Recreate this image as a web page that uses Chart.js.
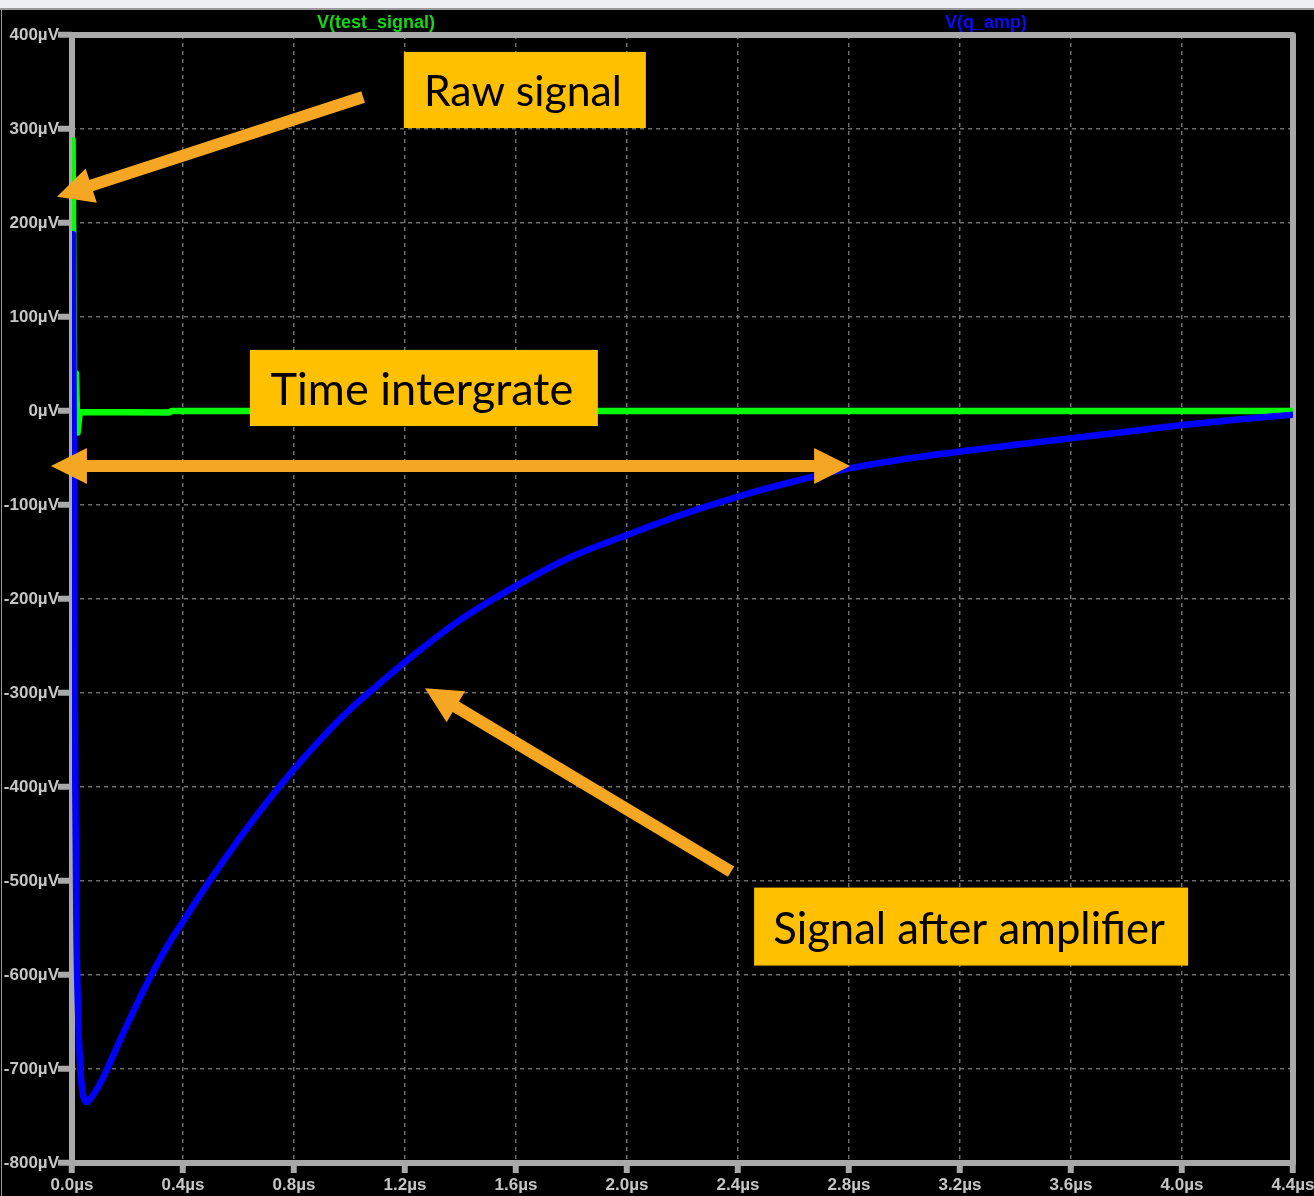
<!DOCTYPE html>
<html>
<head>
<meta charset="utf-8">
<title>V(test_signal) / V(q_amp)</title>
<script src="https://cdn.jsdelivr.net/npm/chart.js@4.4.1/dist/chart.umd.min.js"></script>
<style>
  html, body { margin: 0; padding: 0; background: #000; }
  #wrap { width: 1314px; height: 1196px; position: relative; }
</style>
</head>
<body>
<div id="wrap"><canvas id="scope"></canvas></div>
<script>
// Axis ticks (time in µs, voltage in µV)
const timeTicks = [0.0, 0.4, 0.8, 1.2, 1.6, 2.0, 2.4, 2.8, 3.2, 3.6, 4.0, 4.4];
const voltTicks = [400, 300, 200, 100, 0, -100, -200, -300, -400, -500, -600, -700, -800];

// Trace names
const traceNames = ["V(test_signal)", "V(q_amp)"];

// V(test_signal): short spike at t=0 then flat
const testSignalT = [0, 0.002, 0.008, 0.014, 0.02, 0.028, 0.35, 0.36, 4.4];
const testSignalV = [0, 288, 0, 40, -23, -1, -1.5, 0, 0];

// V(q_amp): amplifier output, fast dip then slow recovery
const qAmpT = [0, 0.003, 0.008, 0.012, 0.016, 0.022, 0.03, 0.04, 0.053, 0.075, 0.1, 0.125,
  0.16, 0.2, 0.25, 0.3, 0.35, 0.4, 0.5, 0.6, 0.7, 0.8, 0.9, 1.0, 1.1, 1.2, 1.4, 1.6,
  1.8, 2.0, 2.2, 2.4, 2.6, 2.8, 3.0, 3.2, 3.4, 3.6, 3.8, 4.0, 4.2, 4.4];
const qAmpV = [0, 188, -200, -400, -550, -640, -700, -728, -735, -728, -716, -701,
  -678, -652, -621, -592, -566, -543, -498, -456, -417, -381, -348, -318, -292, -267, -222, -186,
  -155, -132, -110, -91, -75, -61, -51, -43, -36, -29, -22, -15, -9, -4];

// Callouts, placed in data units (µs, µV)
const callouts = [
  { text: "Raw signal", t0: 1.196, t1: 2.068, v0: 382, v1: 301, textW: 198 },
  { text: "Time intergrate", t0: 0.641, t1: 1.895, v0: 65, v1: -16, textW: 303 },
  { text: "Signal after amplifier", t0: 2.458, t1: 4.022, v0: -507, v1: -590, textW: 392 }
];
const arrows = [
  { t0: 1.049, v0: 334, t1: -0.054, v1: 228, both: false },
  { t0: -0.076, v0: -58.5, t1: 2.804, v1: -58.5, both: true },
  { t0: 2.375, v0: -490, t1: 1.272, v1: -295, both: false }
];

const traceColors = ["#00ff00", "#0000ff"];
const nameColors = ["#14d814", "#0a0aff"];
const nameX = [376, 986];

function toPoints(ts, vs) {
  return ts.map((t, i) => ({ x: t, y: vs[i] }));
}

function drawArrow(ctx, x1, y1, x2, y2, both) {
  const len = Math.hypot(x2 - x1, y2 - y1);
  const ux = (x2 - x1) / len, uy = (y2 - y1) / len;
  const nx = -uy, ny = ux;
  const hl = 36, hw = 18, sw = 6;
  const s = both ? hl - 2 : 0;
  ctx.beginPath();
  ctx.moveTo(x1 + ux * s + nx * sw, y1 + uy * s + ny * sw);
  ctx.lineTo(x2 - ux * (hl - 2) + nx * sw, y2 - uy * (hl - 2) + ny * sw);
  ctx.lineTo(x2 - ux * (hl - 2) - nx * sw, y2 - uy * (hl - 2) - ny * sw);
  ctx.lineTo(x1 + ux * s - nx * sw, y1 + uy * s - ny * sw);
  ctx.closePath();
  ctx.fill();
  const head = (tx, ty, dx, dy) => {
    const bx = tx - dx * hl, by = ty - dy * hl;
    ctx.beginPath();
    ctx.moveTo(tx, ty);
    ctx.lineTo(bx - dy * hw, by + dx * hw);
    ctx.lineTo(bx + dy * hw, by - dx * hw);
    ctx.closePath();
    ctx.fill();
  };
  head(x2, y2, ux, uy);
  if (both) head(x1, y1, -ux, -uy);
}

// Background, frame and trace names
const scopeFrame = {
  id: "scopeFrame",
  beforeDraw(chart) {
    const { ctx, width, height } = chart;
    ctx.save();
    ctx.fillStyle = "#000";
    ctx.fillRect(0, 0, width, height);
    ctx.fillStyle = "#eceff3";
    ctx.fillRect(0, 0, width, 8);
    ctx.fillStyle = "#9a9a9a";
    ctx.fillRect(0, 8, width, 2);
    ctx.fillRect(1, 10, 1, height - 10);
    ctx.restore();
  },
  beforeDatasetsDraw(chart) {
    const { ctx, chartArea: a } = chart;
    ctx.save();
    ctx.strokeStyle = "#a9a9a9";
    ctx.lineWidth = 6;
    ctx.lineJoin = "round";
    ctx.strokeRect(a.left, a.top, a.right - a.left, a.bottom - a.top);
    ctx.font = 'bold 18px "Liberation Sans", Arial, sans-serif';
    ctx.textAlign = "center";
    ctx.textBaseline = "alphabetic";
    traceNames.forEach((name, i) => {
      ctx.fillStyle = nameColors[i];
      ctx.fillText(name, nameX[i], 28);
    });
    ctx.restore();
  }
};

// Orange callouts drawn over the traces
const calloutLayer = {
  id: "calloutLayer",
  afterDatasetsDraw(chart) {
    const { ctx } = chart;
    const xs = chart.scales.x, ys = chart.scales.y;
    ctx.save();
    ctx.fillStyle = "#f5a623";
    arrows.forEach(a => {
      drawArrow(ctx, xs.getPixelForValue(a.t0), ys.getPixelForValue(a.v0),
        xs.getPixelForValue(a.t1), ys.getPixelForValue(a.v1), a.both);
    });
    callouts.forEach(c => {
      const x0 = xs.getPixelForValue(c.t0), x1 = xs.getPixelForValue(c.t1);
      const y0 = ys.getPixelForValue(c.v0), y1 = ys.getPixelForValue(c.v1);
      ctx.fillStyle = "#ffc000";
      ctx.fillRect(x0, y0, x1 - x0, y1 - y0);
      ctx.font = '40px Lato, "Open Sans", sans-serif';
      const fs = 40 * c.textW / ctx.measureText(c.text).width;
      ctx.font = fs.toFixed(1) + 'px Lato, "Open Sans", sans-serif';
      const cap = ctx.measureText("H").actualBoundingBoxAscent;
      ctx.fillStyle = "#000";
      ctx.textAlign = "center";
      ctx.textBaseline = "alphabetic";
      ctx.fillText(c.text, (x0 + x1) / 2 - 2, (y0 + y1) / 2 + cap / 2 + 1);
    });
    ctx.restore();
  }
};

const tickFont = { family: '"Liberation Sans", Arial, sans-serif', size: 17, weight: "bold" };

new Chart(document.getElementById("scope"), {
  type: "line",
  data: {
    datasets: [
      {
        label: traceNames[0],
        data: toPoints(testSignalT, testSignalV),
        borderColor: traceColors[0],
        borderWidth: 6.5,
        pointRadius: 0,
        tension: 0,
        borderJoinStyle: "round",
        order: 2
      },
      {
        label: traceNames[1],
        data: toPoints(qAmpT, qAmpV),
        borderColor: traceColors[1],
        borderWidth: 6.5,
        pointRadius: 0,
        cubicInterpolationMode: "monotone",
        borderJoinStyle: "round",
        order: 1
      }
    ]
  },
  options: {
    responsive: true,
    maintainAspectRatio: false,
    animation: false,
    devicePixelRatio: 1,
    layout: { padding: { top: 35, right: 21, left: 0, bottom: 0 } },
    plugins: {
      legend: { display: false },
      tooltip: { enabled: false }
    },
    scales: {
      x: {
        type: "linear",
        min: 0,
        max: 4.4,
        afterBuildTicks: s => { s.ticks = timeTicks.map(v => ({ value: v })); },
        afterFit: s => { s.height = 33; s.paddingLeft = 0; s.paddingRight = 0; },
        border: { display: false, dash: [4, 4] },
        grid: {
          color: "#6c6c6c",
          lineWidth: 1.5,
          tickLength: 10,
          tickWidth: 6,
          tickColor: "#a9a9a9",
          tickBorderDash: []
        },
        ticks: {
          autoSkip: false,
          maxRotation: 0,
          padding: 2,
          color: "#c6c6c6",
          font: tickFont,
          callback: v => v.toFixed(1) + "µs"
        }
      },
      y: {
        type: "linear",
        min: -800,
        max: 400,
        afterBuildTicks: s => { s.ticks = voltTicks.map(v => ({ value: v })); },
        afterFit: s => { s.width = 72; s.paddingTop = 0; s.paddingBottom = 0; },
        border: { display: false, dash: [4, 4] },
        grid: {
          color: "#6c6c6c",
          lineWidth: 1.5,
          tickLength: 14,
          tickWidth: 6,
          tickColor: "#a9a9a9",
          tickBorderDash: []
        },
        ticks: {
          autoSkip: false,
          padding: -1,
          color: "#c6c6c6",
          font: tickFont,
          callback: v => v + "µV"
        }
      }
    }
  },
  plugins: [scopeFrame, calloutLayer]
});
</script>
</body>
</html>
